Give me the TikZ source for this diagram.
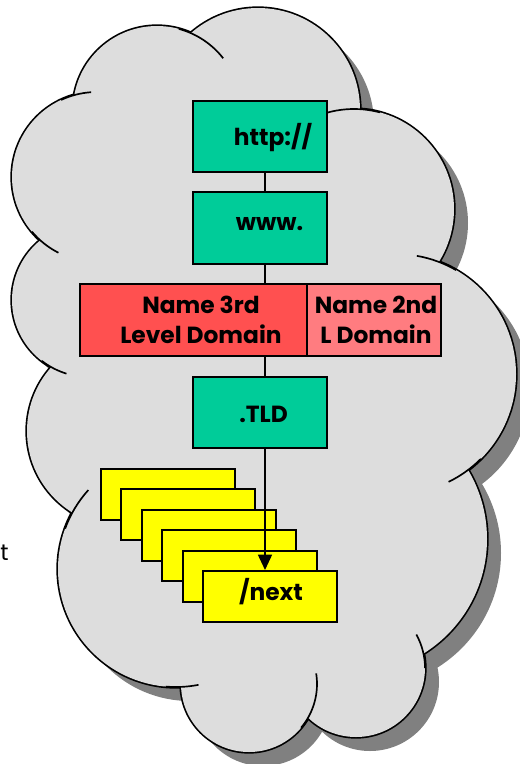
\documentclass[tikz,border=0pt]{standalone}
\usepackage{fontspec}
\setmainfont{Poppins}
\usetikzlibrary{arrows.meta,calc}
\definecolor{cloudgray}{HTML}{DDDDDD}
\definecolor{shadowgray}{HTML}{808080}
\definecolor{tealgreen}{HTML}{00CC99}
\definecolor{redbox}{HTML}{FF5050}
\definecolor{pinkbox}{HTML}{FF7C80}
\definecolor{ybox}{HTML}{FFFF00}
\begin{document}
\begin{tikzpicture}[x=0.75pt,y=-0.75pt,
  boxbase/.style={draw=black, line width=1.5pt, inner sep=0pt, minimum height=53.5pt},
  gbox/.style={boxbase, fill=tealgreen, minimum width=100.5pt},
  rbox/.style={boxbase, fill=redbox, minimum width=170.25pt},
  pbox/.style={boxbase, fill=pinkbox, minimum width=100.5pt},
  yelbox/.style={boxbase, fill=ybox, minimum width=100.5pt, minimum height=38.25pt},
  lbl/.style={font=\fontsize{17.5}{21}\selectfont\bfseries, inner sep=0pt, anchor=base},
  conn/.style={draw=black, line width=1.2pt},
  cloudline/.style={line width=1.25pt, black}]
\useasboundingbox (0,0) rectangle (520,764);
\def\lobelist{157/110/84, 258/110/102, 354/209/100, 396/374/120, 352/539/135, 356/668/69, 249/684/68, 176/569/118, 123/431/96, 89/300/77, 97/177/85}
% shadow
\foreach \cx/\cy/\r in \lobelist {\fill[shadowgray] (\cx+14,\cy+14) circle[radius=\r];}
\fill[shadowgray, shift={(14,14)}] (157,110) -- (258,110) -- (354,209) -- (396,374) -- (352,539) -- (356,668) -- (249,684) -- (176,569) -- (123,431) -- (89,300) -- (97,177) -- cycle;
% outline (outer half of thick stroke)
\foreach \cx/\cy/\r in \lobelist {\draw[black, line width=2.5pt] (\cx,\cy) circle[radius=\r];}
% fill
\foreach \cx/\cy/\r in \lobelist {\fill[cloudgray] (\cx,\cy) circle[radius=\r];}
\fill[cloudgray] (157,110) -- (258,110) -- (354,209) -- (396,374) -- (352,539) -- (356,668) -- (249,684) -- (176,569) -- (123,431) -- (89,300) -- (97,177) -- cycle;
% overhanging lobe ends
\foreach \cx/\cy/\r/\a/\b in {157/110/84/-75/-38, 97/177/85/-115/-94, 97/177/85/140/117, 89/300/77/128/107, 176/569/118/200/222, 176/569/118/95/79, 249/684/68/40/-9, 356/668/69/0/-29, 396/374/120/-60/-80, 396/374/120/45/64, 354/209/100/-75/-106}
  {\draw[cloudline] (\cx,\cy) ++(\a:\r) arc[start angle=\a, end angle=\b, radius=\r];}

% boxes
\coordinate (lx) at (265,0);
\node[gbox] (http) at (260,136.5) {};
\node[gbox] (www) at (260,228) {};
\node[rbox] (third) at (193.5,320) {};
\node[pbox] (second) at (374,320) {};
\node[gbox] (tld) at (260,412.5) {};
\foreach \i in {0,...,5} {\node[yelbox] (y\i) at ({168+20.4*\i},{494.5+20.4*\i}) {};}

\draw[conn] (http.south -| lx) -- (www.north -| lx);
\draw[conn] (www.south -| lx) -- (third.north -| lx);
\draw[conn] (third.south -| lx) -- (tld.north -| lx);
\draw[conn, -{Triangle[length=11.5pt,width=10.5pt]}] (tld.south -| lx) -- (y5.north -| lx);

% texts
\node[lbl] (thttp) at (273,145) {http://};
\node[lbl] (twww) at (269.5,230) {www.};
\node[lbl] (t3a) at (201,313) {Name 3rd};
\node[lbl] (t3b) at (201,343) {Level Domain};
\node[lbl] (t2a) at (376,313) {Name 2nd};
\node[lbl] (t2b) at (376,343) {L Domain};
\node[lbl] (ttld) at (263.5,422) {.TLD};
\node[lbl] (tnext) at (271,600) {/next};
\node[font=\fontsize{17}{20}\selectfont, inner sep=0pt, anchor=base west] (tcut) at (0,560) {t};
\end{tikzpicture}
\end{document}
